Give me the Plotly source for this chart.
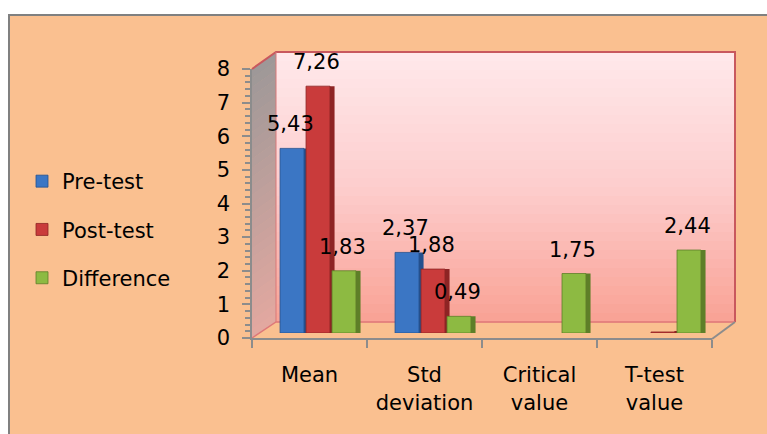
import plotly.graph_objects as go

categories = ["Mean", "Std deviation", "Critical value", "T-test value"]
tick_labels = ["Mean", "Std<br>deviation", "Critical<br>value", "T-test<br>value"]
pre_test = [5.43, 2.37, None, None]
post_test = [7.26, 1.88, None, 0.03]
difference = [1.83, 0.49, 1.75, 2.44]
y_ticks = [0, 1, 2, 3, 4, 5, 6, 7, 8]

W, H = 767, 434
FONT = "DejaVu Sans"
FS = 21
BG = "#FAC090"

PITCH = 0.226      # spacing between the bars of a group (category units)
FRONT_W = 0.208    # width of the front face
SIDE_W = 0.045     # width of the darker side face


def px(x):
    return x / W


def py(y):
    return 1 - y / H


def lerp(c1, c2, t):
    return "rgb(%d,%d,%d)" % tuple(round(a + (b - a) * t) for a, b in zip(c1, c2))


series = [
    ("Pre-test", pre_test, "#3B76C4", "#24508E"),
    ("Post-test", post_test, "#C93B3B", "#8E2424"),
    ("Difference", difference, "#8DBA42", "#5E7F28"),
]

fig = go.Figure()
for k, (name, vals, col, dark) in enumerate(series):
    off = (k - 1) * PITCH - FRONT_W / 2
    fig.add_trace(go.Bar(
        x=categories, y=vals, name=name + " side", showlegend=False,
        offset=off + FRONT_W - 0.005, width=SIDE_W,
        marker=dict(color=dark, line=dict(width=0)), hoverinfo="skip",
    ))
    fig.add_trace(go.Bar(
        x=categories, y=vals, name=name, legendgroup=name,
        offset=off, width=FRONT_W,
        marker=dict(color=col, line=dict(color=dark, width=0.8)),
        hoverinfo="skip",
    ))

# invisible traces to carry the label axes
fig.add_trace(go.Scatter(x=categories, y=[None] * 4, xaxis="x2", yaxis="y2",
                         showlegend=False, hoverinfo="skip"))
fig.add_trace(go.Scatter(x=categories, y=[None] * 4, xaxis="x2", yaxis="y3",
                         showlegend=False, hoverinfo="skip"))

# data labels
annotations = []
for k, (name, vals, col, dark) in enumerate(series):
    for c, v in zip(categories, vals):
        if v is None or v < 0.1:
            continue
        annotations.append(dict(
            x=c, y=v, xref="x", yref="y", text=("%.2f" % v).replace(".", ","),
            showarrow=False, xshift=(k - 1) * 26 - 2, yshift=10, yanchor="bottom",
            font=dict(family=FONT, size=FS, color="black"),
        ))

shapes = []
# outer chart border
shapes.append(dict(type="rect", xref="paper", yref="paper", x0=px(9), x1=px(790),
                   y0=py(460), y1=py(15), fillcolor=BG,
                   line=dict(color="#808080", width=2), layer="below"))
# back wall gradient
top_c, mid_c, bot_c = (255, 232, 234), (253, 205, 205), (249, 163, 150)
y_top, y_bot = 52, 322
n = 30
for i in range(n):
    t = i / (n - 1)
    c = lerp(top_c, mid_c, t * 2) if t < 0.5 else lerp(mid_c, bot_c, (t - 0.5) * 2)
    y0 = y_top + (y_bot - y_top) * i / n
    y1 = y_top + (y_bot - y_top) * (i + 1) / n + 0.6
    shapes.append(dict(type="rect", xref="paper", yref="paper", x0=px(276), x1=px(735),
                       y0=py(y1), y1=py(y0), fillcolor=c, line=dict(width=0), layer="below"))
# side wall gradient
g_top, g_bot = (158, 152, 152), (226, 168, 160)
for i in range(n):
    t = i / (n - 1)
    c = lerp(g_top, g_bot, t)
    d0 = (338 - 69) * i / n
    d1 = (338 - 69) * (i + 1) / n + 0.6
    path = "M %f %f L %f %f L %f %f L %f %f Z" % (
        px(252), py(69 + d0), px(276), py(52 + d0), px(276), py(52 + d1), px(252), py(69 + d1))
    shapes.append(dict(type="path", xref="paper", yref="paper", path=path,
                       fillcolor=c, line=dict(width=0), layer="below"))
wall_line = dict(color="rgb(200,88,94)", width=2)
shapes.append(dict(type="path", xref="paper", yref="paper",
                   path="M %f %f L %f %f L %f %f L %f %f" % (px(252), py(69), px(276), py(52),
                                                             px(735), py(52), px(735), py(322)),
                   line=wall_line, layer="below"))
shapes.append(dict(type="line", xref="paper", yref="paper", x0=px(276), x1=px(276),
                   y0=py(322), y1=py(52), line=dict(color="rgb(215,120,120)", width=1), layer="below"))
shapes.append(dict(type="path", xref="paper", yref="paper",
                   path="M %f %f L %f %f L %f %f" % (px(252), py(338), px(276), py(322),
                                                     px(735), py(322)),
                   line=dict(color="rgb(222,120,120)", width=1.5), layer="below"))
shapes.append(dict(type="line", xref="paper", yref="paper", x0=px(712), x1=px(735),
                   y0=py(339), y1=py(322), line=dict(color="#8C8C8C", width=2), layer="below"))

fig.update_layout(
    width=W, height=H,
    margin=dict(l=0, r=0, t=0, b=0, pad=0, autoexpand=False),
    paper_bgcolor="white", plot_bgcolor="rgba(0,0,0,0)",
    separators=",.",
    barmode="overlay",
    font=dict(family=FONT, size=FS, color="black"),
    showlegend=True,
    legend=dict(x=px(22), y=py(161), xanchor="left", yanchor="top",
                bgcolor="rgba(0,0,0,0)", font=dict(family=FONT, size=FS, color="black"),
                tracegroupgap=18, traceorder="grouped"),
    xaxis=dict(domain=[px(260.5), px(720.5)], range=[-0.5, 3.5], type="category",
               categoryarray=categories, visible=False, fixedrange=True, automargin=False),
    yaxis=dict(domain=[py(333), py(27)], range=[0, 9], visible=False, fixedrange=True,
               automargin=False),
    xaxis2=dict(domain=[px(252), px(712)], range=[-0.5, 3.5], type="category",
                categoryarray=categories, tickvals=categories, ticktext=tick_labels,
                anchor="y2", showline=True, linecolor="#8C8C8C", linewidth=2,
                ticks="outside", ticklen=8, tickwidth=2, tickcolor="#8C8C8C",
                tickson="boundaries", showgrid=False, zeroline=False,
                ticklabelstandoff=17, automargin=False,
                tickfont=dict(family=FONT, size=FS, color="black")),
    yaxis2=dict(domain=[py(338), py(69)], range=[0, 8], anchor="x2",
                tickvals=y_ticks, showticklabels=False,
                showline=True, linecolor="#8C8C8C", linewidth=2,
                ticks="outside", ticklen=8, tickwidth=2, tickcolor="#8C8C8C",
                minor=dict(dtick=0.2, ticks="outside", ticklen=5, tickwidth=1.5,
                           tickcolor="#8C8C8C", showgrid=False),
                showgrid=False, zeroline=False, automargin=False),
    yaxis3=dict(overlaying="y2", anchor="free", position=px(230), side="left",
                range=[0, 8], tickvals=y_ticks, ticktext=[str(t) for t in y_ticks],
                showline=False, ticks="", showgrid=False, zeroline=False, automargin=False,
                tickfont=dict(family=FONT, size=FS, color="black")),
    shapes=shapes,
    annotations=annotations,
)

fig.write_html("out.html", post_script="document.body.style.margin='0';",
               config={"displayModeBar": False})
